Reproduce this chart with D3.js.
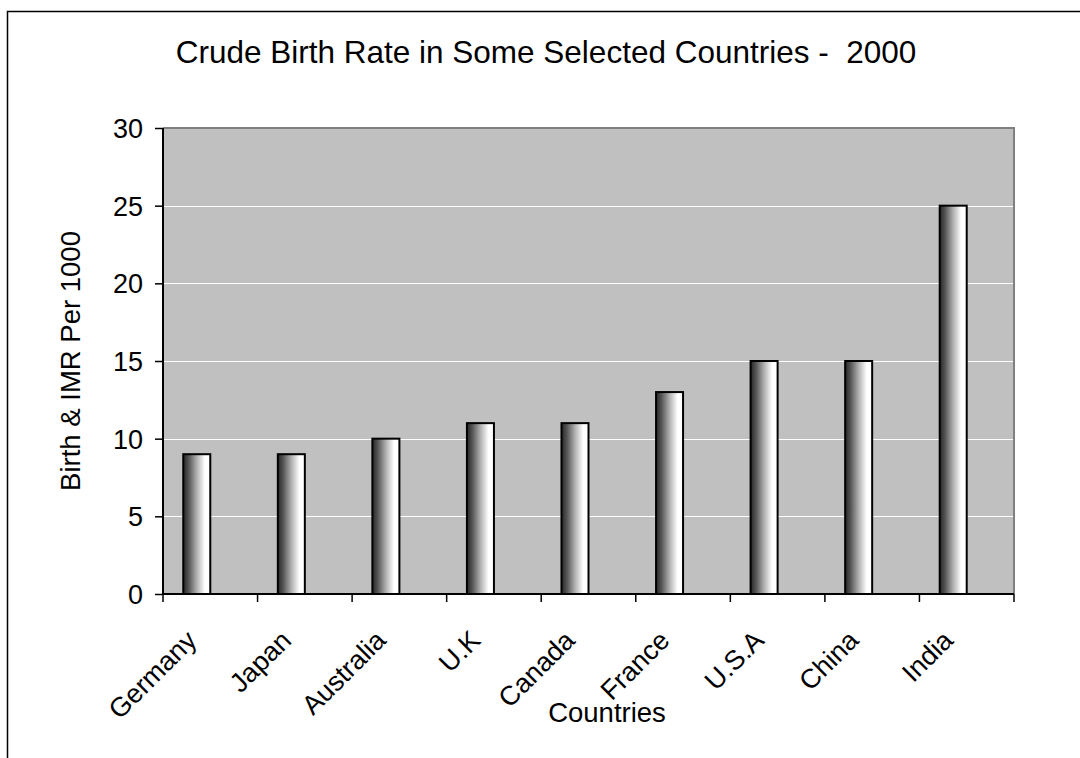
<!DOCTYPE html>
<html>
<head>
<meta charset="utf-8">
<script src="https://cdn.jsdelivr.net/npm/d3@7"></script>
<style>
  html, body { margin: 0; padding: 0; background: #fff; }
  svg { display: block; font-family: "Liberation Sans", Arial, sans-serif; }
</style>
</head>
<body>
<svg id="chart" width="1080" height="758"></svg>
<script>
// Crude birth rate per 1000, year 2000
const countries = ["Germany", "Japan", "Australia", "U.K", "Canada", "France", "U.S.A", "China", "India"];
const birthRate = [9, 9, 10, 11, 11, 13, 15, 15, 25];
const seriesNames = ["Birth Rate", "IMR"];
const yTicks = [0, 5, 10, 15, 20, 25, 30];

const titleText = "Crude Birth Rate in Some Selected Countries -  2000";
const xTitle = "Countries";
const yTitle = "Birth & IMR Per 1000";

const svg = d3.select("#chart");
const plot = { left: 163, right: 1014, top: 128, bottom: 594 };

// outer chart frame (top and left edges visible, rest runs past the page)
svg.append("rect")
  .attr("x", 7.5).attr("y", 11.5)
  .attr("width", 1200).attr("height", 900)
  .attr("fill", "none").attr("stroke", "#000").attr("stroke-width", 1.5);

const defs = svg.append("defs");
const grad = defs.append("linearGradient")
  .attr("id", "barShade").attr("x1", "0%").attr("x2", "100%").attr("y1", "0%").attr("y2", "0%");
[[0, "#262626"], [0.2, "#555555"], [0.5, "#b0b0b0"], [0.8, "#ffffff"], [1, "#ffffff"]]
  .forEach(([o, c]) => grad.append("stop").attr("offset", o).attr("stop-color", c));

const x0 = d3.scaleBand().domain(countries).range([plot.left, plot.right]).paddingInner(0).paddingOuter(0);
const x1 = d3.scaleBand().domain(seriesNames).range([0, x0.bandwidth()]).paddingInner(0).paddingOuter(0.75);
const y = d3.scaleLinear().domain([0, 30]).range([plot.bottom, plot.top]);

// plot background
svg.append("rect")
  .attr("x", plot.left).attr("y", plot.top)
  .attr("width", plot.right - plot.left).attr("height", plot.bottom - plot.top)
  .attr("fill", "#c0c0c0");

// gridlines
svg.append("g").selectAll("line")
  .data(yTicks.filter(t => t > 0 && t < 30))
  .join("line")
  .attr("x1", plot.left).attr("x2", plot.right)
  .attr("y1", d => Math.round(y(d)) + 0.5).attr("y2", d => Math.round(y(d)) + 0.5)
  .attr("stroke", "#fff").attr("stroke-width", 1);

// plot frame: gray top and right
svg.append("path")
  .attr("d", `M${plot.left},${plot.top}H${plot.right}V${plot.bottom}`)
  .attr("fill", "none").attr("stroke", "#808080").attr("stroke-width", 2);

// bars
svg.append("g").selectAll("rect")
  .data(countries.map((c, i) => ({ c, v: birthRate[i] })))
  .join("rect")
  .attr("x", d => x0(d.c) + x1(seriesNames[0]))
  .attr("width", x1.bandwidth())
  .attr("y", d => y(d.v))
  .attr("height", d => y(0) - y(d.v))
  .attr("fill", "url(#barShade)")
  .attr("stroke", "#000").attr("stroke-width", 2);

// y axis
const yAxis = d3.axisLeft(y).tickValues(yTicks).tickSize(8).tickPadding(12);
const gy = svg.append("g").attr("transform", `translate(${plot.left},0)`).call(yAxis);
gy.select(".domain").attr("stroke", "#000").attr("stroke-width", 2).attr("d", `M0,${plot.top}V${plot.bottom}`);
gy.selectAll(".tick line").attr("stroke", "#000").attr("stroke-width", 1.5);
gy.selectAll(".tick text").attr("font-size", 27).attr("fill", "#000")
  .attr("font-family", "Liberation Sans, Arial, sans-serif").attr("dy", "0.35em");

// x axis with ticks at category boundaries
const gx = svg.append("g").attr("transform", `translate(0,${plot.bottom})`);
gx.append("line").attr("x1", plot.left).attr("x2", plot.right).attr("y1", 0).attr("y2", 0)
  .attr("stroke", "#000").attr("stroke-width", 2);
const boundaries = countries.map(c => x0(c)).concat([plot.right]);
gx.selectAll("line.tk").data(boundaries).join("line").attr("class", "tk")
  .attr("x1", d => d).attr("x2", d => d).attr("y1", 0).attr("y2", 8)
  .attr("stroke", "#000").attr("stroke-width", 1.5);
gx.selectAll("text").data(countries).join("text")
  .attr("transform", d => `translate(${x0(d) + x0.bandwidth() / 2 - 12},${48}) rotate(-45)`)
  .attr("text-anchor", "end")
  .attr("font-size", 27).attr("fill", "#000")
  .text(d => d);

// titles
svg.append("text").attr("x", 546).attr("y", 63).attr("text-anchor", "middle")
  .attr("xml:space", "preserve").style("white-space", "pre")
  .attr("font-size", 31.5).attr("fill", "#000").text(titleText);
svg.append("text").attr("x", 607).attr("y", 722).attr("text-anchor", "middle")
  .attr("font-size", 27.5).attr("fill", "#000").text(xTitle);
svg.append("text").attr("transform", `translate(80,${(plot.top + plot.bottom) / 2}) rotate(-90)`)
  .attr("text-anchor", "middle")
  .attr("font-size", 27.5).attr("fill", "#000").text(yTitle);
</script>
</body>
</html>
